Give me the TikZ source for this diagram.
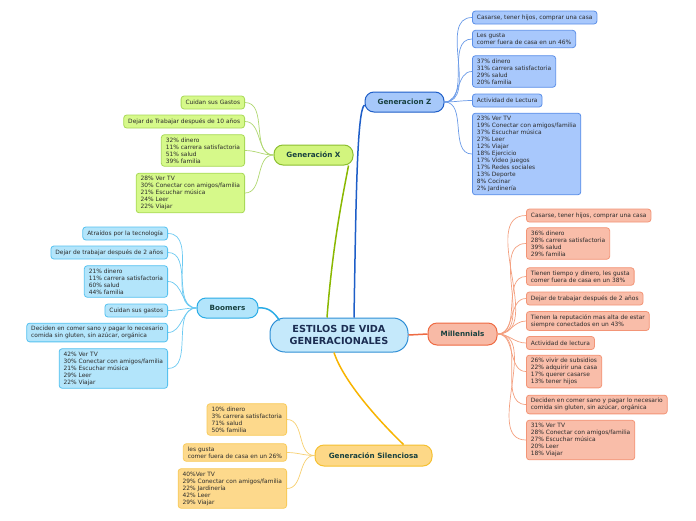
\documentclass[tikz,border=0pt]{standalone}
\usepackage{fontspec}
\newfontfamily\dvs{DejaVu Sans}
\newcommand\lfnt{\dvs\fontsize{5.9}{7}\selectfont}
\newcommand\mfnt{\dvs\bfseries\fontsize{7.2}{9}\selectfont}
\newcommand\cfnt{\dvs\bfseries\fontsize{9.7}{12}\selectfont}
\definecolor{leaftext}{HTML}{2B2B2B}
\definecolor{maintext}{HTML}{17403F}
\definecolor{ctext}{HTML}{1B2D52}
\definecolor{cfill}{HTML}{C5E9FB}\definecolor{cline}{HTML}{2F8FD6}
\definecolor{zfill}{HTML}{A6C8FA}\definecolor{zline}{HTML}{1E5EC8}
\definecolor{zlfill}{HTML}{A8C8FC}\definecolor{zlline}{HTML}{5B8FE8}\definecolor{zcon}{HTML}{6B9BE8}
\definecolor{xfill}{HTML}{D2F57E}\definecolor{xline}{HTML}{8CBF30}
\definecolor{xlfill}{HTML}{D6F98A}\definecolor{xlline}{HTML}{A9D958}\definecolor{xcon}{HTML}{B0D870}\definecolor{xmcon}{HTML}{8AB800}
\definecolor{bfill}{HTML}{B3E5FB}\definecolor{bline}{HTML}{2AACE6}
\definecolor{blfill}{HTML}{B3E5FB}\definecolor{blline}{HTML}{56C2F0}\definecolor{bcon}{HTML}{6CCAF2}
\definecolor{mfill}{HTML}{F8BAA6}\definecolor{mline}{HTML}{EE6A42}
\definecolor{mlfill}{HTML}{F9BDA9}\definecolor{mlline}{HTML}{F39577}\definecolor{mcon}{HTML}{F4A080}
\definecolor{sfill}{HTML}{FDD887}\definecolor{sline}{HTML}{F5C030}
\definecolor{slfill}{HTML}{FDD98C}\definecolor{slline}{HTML}{F8CB5C}\definecolor{scon}{HTML}{F8D070}\definecolor{smcon}{HTML}{F8B400}
\begin{document}
\begin{tikzpicture}[x=1pt,y=-1pt,
  leaf/.style={draw, rounded corners=3pt, line width=0.8pt, font=\lfnt, align=left,
    inner xsep=4.5pt, inner ysep=3pt, minimum height=13pt, text=leaftext},
  zleaf/.style={leaf, fill=zlfill, draw=zlline, anchor=west},
  xleaf/.style={leaf, fill=xlfill, draw=xlline, anchor=east},
  bleaf/.style={leaf, fill=blfill, draw=blline, anchor=east},
  mleaf/.style={leaf, fill=mlfill, draw=mlline, anchor=west},
  sleaf/.style={leaf, fill=slfill, draw=slline, anchor=east},
  mainnode/.style={draw, rounded corners=9pt, line width=1pt, font=\mfnt, text=maintext, inner sep=0pt},
  lcon/.style={line width=0.7pt},
  mcn/.style={line width=1.5pt}]
\fill[white] (0,0) rectangle (696,520);
\useasboundingbox (0,0) rectangle (696,520);

% central
\node[draw=cline, fill=cfill, line width=1pt, rounded corners=15pt, font=\cfnt, text=ctext,
  align=center, minimum width=138pt, minimum height=34pt, inner sep=0pt] (c) at (339,335)
  {ESTILOS DE VIDA\\GENERACIONALES};

% main nodes
\node[mainnode, fill=zfill, draw=zline, minimum width=79pt, minimum height=20pt] (z) at (404.5,102) {Generacion Z};
\node[mainnode, fill=xfill, draw=xline, minimum width=79pt, minimum height=20pt] (x) at (313.5,155) {Generación X};
\node[mainnode, fill=bfill, draw=bline, minimum width=61pt, minimum height=20pt] (b) at (227.5,308) {Boomers};
\node[mainnode, fill=mfill, draw=mline, minimum width=69pt, minimum height=22pt] (m) at (462.5,334) {Millennials};
\node[mainnode, fill=sfill, draw=sline, minimum width=117pt, minimum height=21pt] (s) at (373.5,455.5) {Generación Silenciosa};

% Generacion Z leaves
\node[zleaf] (z1) at (472,17.5) {Casarse, tener hijos, comprar una casa};
\node[zleaf] (z2) at (472,39) {Les gusta\\comer fuera de casa en un 46\%};
\node[zleaf] (z3) at (472,71.5) {37\% dinero\\31\% carrera satisfactoria\\29\% salud\\20\% familia};
\node[zleaf] (z4) at (472,100.5) {Actividad de Lectura};
\node[zleaf] (z5) at (472,154) {23\% Ver TV\\19\% Conectar con amigos/familia\\37\% Escuchar música\\27\% Leer\\12\% Viajar\\18\% Ejercicio\\17\% Video juegos\\17\% Redes sociales\\13\% Deporte\\8\% Cocinar\\2\% Jardinería};

% Generacion X leaves
\node[xleaf] (x1) at (245,102.5) {Cuidan sus Gastos};
\node[xleaf] (x2) at (245,121.5) {Dejar de Trabajar después de 10 años};
\node[xleaf] (x3) at (245,150.5) {32\% dinero\\11\% carrera satisfactoria\\51\% salud\\39\% familia};
\node[xleaf] (x4) at (245,193) {28\% Ver TV\\30\% Conectar con amigos/familia\\21\% Escuchar música\\24\% Leer\\22\% Viajar};

% Boomers leaves
\node[bleaf] (b1) at (168,233.5) {Atraídos por la tecnología};
\node[bleaf] (b2) at (168,252.5) {Dejar de trabajar después de 2 años};
\node[bleaf] (b3) at (168,281.5) {21\% dinero\\11\% carrera satisfactoria\\60\% salud\\44\% familia};
\node[bleaf] (b4) at (168,310.5) {Cuidan sus gastos};
\node[bleaf] (b5) at (168,332.5) {Deciden en comer sano y pagar lo necesario\\comida sin gluten, sin azúcar, orgánica};
\node[bleaf] (b6) at (168,368.5) {42\% Ver TV\\30\% Conectar con amigos/familia\\21\% Escuchar música\\29\% Leer\\22\% Viajar};

% Millennials leaves
\node[mleaf] (m1) at (526,215.5) {Casarse, tener hijos, comprar una casa};
\node[mleaf] (m2) at (526,243.5) {36\% dinero\\28\% carrera satisfactoria\\39\% salud\\29\% familia};
\node[mleaf] (m3) at (526,276.5) {Tienen tiempo y dinero, les gusta\\comer fuera de casa en un 38\%};
\node[mleaf] (m4) at (526,298.5) {Dejar de trabajar después de 2 años};
\node[mleaf] (m5) at (526,321) {Tienen la reputación mas alta de estar\\siempre conectados en un 43\%};
\node[mleaf] (m6) at (526,343) {Actividad de lectura};
\node[mleaf] (m7) at (526,371.5) {26\% vivir de subsidios\\22\% adquirir una casa\\17\% querer casarse\\13\% tener hijos};
\node[mleaf] (m8) at (526,404.5) {Deciden en comer sano y pagar lo necesario\\comida sin gluten, sin azúcar, orgánica};
\node[mleaf] (m9) at (526,440) {31\% Ver TV\\28\% Conectar con amigos/familia\\27\% Escuchar música\\20\% Leer\\18\% Viajar};

% Silenciosa leaves
\node[sleaf] (s1) at (287,419.5) {10\% dinero\\3\% carrera satisfactoria\\71\% salud\\50\% familia};
\node[sleaf] (s2) at (287,452.5) {les gusta\\comer fuera de casa en un 26\%};
\node[sleaf] (s3) at (287,488.5) {40\%Ver TV\\29\% Conectar con amigos/familia\\22\% Jardinería\\42\% Leer\\29\% Viajar};

% leaf connectors
\foreach \n in {z1,z2,z3,z4,z5} \draw[lcon, zcon] (z.east) to[out=0,in=180] (\n.west);
\foreach \n in {x1,x2,x3,x4} \draw[lcon, xcon] (x.west) to[out=180,in=0] (\n.east);
\foreach \n in {b1,b2,b3,b4,b5,b6} \draw[lcon, bcon] (b.west) to[out=180,in=0] (\n.east);
\foreach \n in {m1,m2,m3,m4,m5,m6,m7,m8,m9} \draw[lcon, mcon] (m.east) to[out=0,in=180] (\n.west);
\foreach \n in {s1,s2,s3} \draw[lcon, scon] (s.west) to[out=180,in=0] (\n.east);

% main connectors
\draw[mcn, zline] ([xshift=15pt]c.north) .. controls (356,200) and (357,110) .. ([yshift=-3pt]z.west);
\draw[mcn, xmcon] ([xshift=-12pt]c.north) .. controls (333,240) and (344,190) .. ([xshift=-5pt]x.south east);
\draw[mcn, bline] ([xshift=10pt,yshift=-3pt]c.north west) .. controls (274,312) and (268,307) .. (b.east);
\draw[mcn, mline] (c.east) -- (m.west);
\draw[mcn, smcon] ([xshift=-5pt]c.south) .. controls (343,380) and (376,418) .. ([xshift=30pt]s.north);
\end{tikzpicture}
\end{document}
